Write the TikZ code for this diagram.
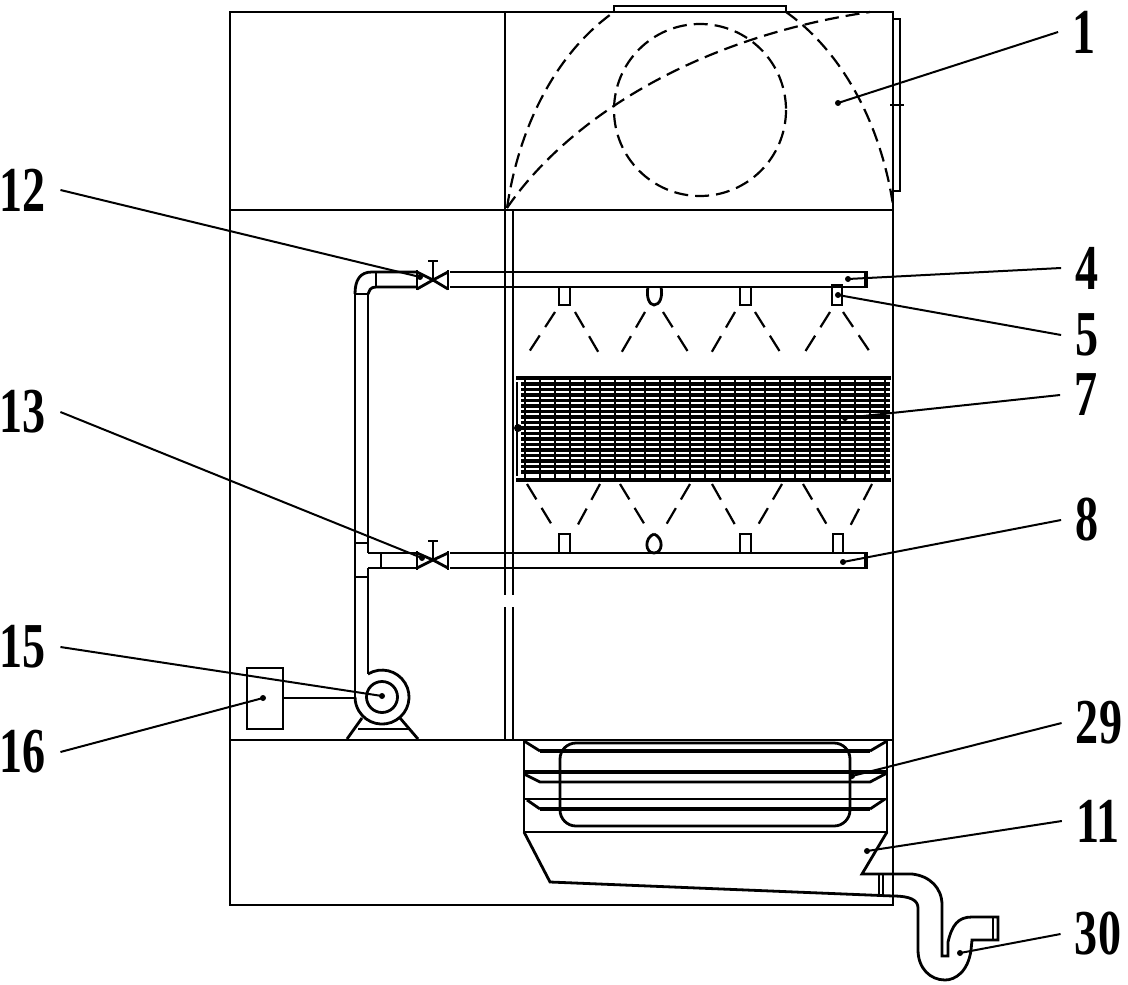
\documentclass[tikz,border=0pt]{standalone}
\usepackage{fontspec}
\setmainfont{Liberation Serif}
\newfontfamily\numfont[FakeStretch=0.72]{Liberation Serif}
\tikzset{
  part/.style={line width=1.4pt},
  heavy/.style={line width=2pt},
  hidden/.style={line width=1.1pt,dash pattern=on 7pt off 3.5pt},
  spray/.style={line width=1.1pt,dash pattern=on 9pt off 5pt},
  leader/.style={line width=1pt},
  numlabel/.style={font=\numfont\bfseries\fontsize{32}{36}\selectfont,inner ysep=1pt,inner xsep=7pt},
}
\begin{document}
\begin{tikzpicture}[x=0.5pt,y=-0.5pt]
      \useasboundingbox (0,0) rectangle (1128,984);
      % casing
      \draw[part] (230,12) rectangle (893,905);
      \draw[part] (230,210) -- (893,210);
      \draw[part] (230,740) -- (893,740);
      \draw[part] (505,12) -- (505,595);
      \draw[part] (505,607) -- (505,740);
      \draw[part] (513,210) -- (513,595);
      \draw[part] (513,607) -- (513,740);
      \draw[part] (614,12) -- (614,6) -- (786,6) -- (786,12);
      \draw[part] (894,19) -- (900,19) -- (900,191) -- (894,191);
      \draw[hidden] (890,105) -- (908,105);
      % fan
      \draw[hidden] (700,110) circle (86);
      \draw[hidden] (507,208) .. controls (520,120) and (560,50) .. (614,12);
      \draw[hidden] (786,12) .. controls (840,50) and (880,120) .. (893,205);
      \draw[hidden] (507,208) .. controls (560,130) and (680,40) .. (870,12);
      % upper pipe
      \draw[part] (450,272) -- (866,272);
      \draw[part] (450,287) -- (866,287);
      \draw[heavy] (866,271) -- (866,288);
      \draw[part] (355,294) .. controls (355,280) and (360,272) .. (372,272) -- (417,272);
      \draw[part] (368,294) .. controls (369,291) and (370,287) .. (376,287) -- (417,287);
      \draw[part] (376,272) -- (376,287);
      \draw[part] (355,294) -- (368,294);
      \draw[part] (417,270) -- (417,290);
      \draw[part] (417,272) -- (433,280) -- (417,289);
      \draw[part] (448,270) -- (448,290);
      \draw[part] (448,272) -- (433,280) -- (448,289);
      \draw[part] (433,280) -- (433,261);
      \draw[part] (428,261) -- (438,261);
      % lower pipe
      \draw[part] (450,553) -- (866,553);
      \draw[part] (450,568) -- (866,568);
      \draw[heavy] (866,552) -- (866,569);
      \draw[part] (368,553) -- (417,553);
      \draw[part] (368,568) -- (417,568);
      \draw[part] (381,553) -- (381,568);
      \draw[part] (417,551) -- (417,570);
      \draw[part] (417,553) -- (433,560) -- (417,568);
      \draw[part] (448,551) -- (448,570);
      \draw[part] (448,553) -- (433,560) -- (448,568);
      \draw[part] (433,560) -- (433,541);
      \draw[part] (428,541) -- (438,541);
      % riser
      \draw[part] (355,294) -- (355,697);
      \draw[part] (368,294) -- (368,553);
      \draw[part] (368,568) -- (368,674);
      \draw[part] (355,543) -- (368,543);
      \draw[part] (355,577) -- (368,577);
      % nozzles
      \draw[part] (559,287) rectangle (570,305);
      \draw[part] (648,287) .. controls (646,296) and (649,305) .. (654,305) .. controls (660,305) and (663,296) .. (661,287);
      \draw[part] (740,287) rectangle (751,305);
      \draw[part] (832,285) rectangle (842,305);
      \draw[part] (559,534) rectangle (570,553);
      \draw[part] (654,534) .. controls (644,538) and (645,553) .. (654,553) .. controls (663,553) and (664,538) .. (654,534);
      \draw[part] (740,534) rectangle (751,553);
      \draw[part] (833,534) rectangle (843,553);
      % upper sprays
      \draw[spray] (555,312) -- (527,355);
      \draw[spray] (575,312) -- (600,355);
      \draw[spray] (645,312) -- (620,355);
      \draw[spray] (663,312) -- (690,355);
      \draw[spray] (735,312) -- (710,355);
      \draw[spray] (755,312) -- (782,355);
      \draw[spray] (830,312) -- (803,355);
      \draw[spray] (843,312) -- (872,355);
      % lower sprays
      \draw[spray] (527,484) -- (555,530);
      \draw[spray] (600,484) -- (575,530);
      \draw[spray] (620,484) -- (648,530);
      \draw[spray] (690,484) -- (663,530);
      \draw[spray] (712,484) -- (738,530);
      \draw[spray] (782,484) -- (755,530);
      \draw[spray] (803,484) -- (830,530);
      \draw[spray] (872,484) -- (848,530);
      % packing
      \foreach \y in {384,389.5,...,476}
        \draw[line width=1.6pt] (521,\y) -- (890,\y);
      \foreach \x in {525,540,...,888}
        \draw[line width=1pt] (\x,378) -- (\x,480);
      \draw[line width=2.4pt] (516,378) -- (891,378);
      \draw[line width=2.4pt] (516,480) -- (891,480);
      \draw[part] (517,382) -- (517,476);
      \fill (518,428) circle (4);
      % basin
      \draw[part] (524,740) -- (524,832) -- (887,832) -- (887,740);
      \draw[part] (524,741) -- (540,751);
      \draw[heavy] (540,751) -- (870,751);
      \draw[part] (870,751) -- (887,741);
      \draw[heavy] (524,772) -- (887,772);
      \draw[part] (524,774) -- (540,782) -- (870,782) -- (887,773);
      \draw[part] (524,799) -- (887,799);
      \draw[part] (527,800) -- (540,809);
      \draw[heavy] (540,809) -- (870,809);
      \draw[part] (870,809) -- (885,799);
      \draw[part,rounded corners=8] (560,743) rectangle (850,826);
      % hopper
      \draw[part] (524,832) -- (550,882) -- (893,896);
      \draw[part] (887,832) -- (862,874) -- (912,874);
      \draw[part] (879,875) -- (879,896);
      \draw[part] (883,875) -- (883,896);
      % drain trap
      \draw[part] (912,874) .. controls (930,876) and (942,888) .. (942,905) -- (942,956) -- (948,956) -- (948,942) .. controls (952,925) and (958,917) .. (972,917) -- (998,917) -- (998,940) -- (972,940) -- (971,950) .. controls (968,972) and (955,980) .. (945,980) .. controls (930,980) and (918,968) .. (918,950) -- (918,908) .. controls (918,900) and (910,896) .. (893,896);
      \draw[part] (993,917) -- (993,940);
      % pump and motor
      \draw[part] (368,674) arc (238.7:540:27);
      \draw[part] (382,697) circle (15.5);
      \draw[part] (347,739) -- (362,718);
      \draw[part] (400,718) -- (418,739);
      \draw[part] (358,729) -- (408,729);
      \draw[part] (247,668) rectangle (283,729);
      \draw[part] (283,698) -- (355,698);
      % labels
      \node[numlabel] (num1) at (1084,32) {1};
      \node[numlabel] (num4) at (1087,268) {4};
      \node[numlabel] (num5) at (1087,335) {5};
      \node[numlabel] (num7) at (1086,395) {7};
      \node[numlabel] (num8) at (1087,520) {8};
      \node[numlabel] (num11) at (1098,821) {11};
      \node[numlabel] (num12) at (23,190) {12};
      \node[numlabel] (num13) at (23,412) {13};
      \node[numlabel] (num15) at (23,647) {15};
      \node[numlabel] (num16) at (23,752) {16};
      \node[numlabel] (num29) at (1099,723) {29};
      \node[numlabel] (num30) at (1098,934) {30};
      % leaders
      \coordinate (tip1) at (838,103);
      \coordinate (tip4) at (848,279);
      \coordinate (tip5) at (838,295);
      \coordinate (tip7) at (845,418);
      \coordinate (tip8) at (843,562);
      \coordinate (tip11) at (867,851);
      \coordinate (tip12) at (420,277);
      \coordinate (tip13) at (422,558);
      \coordinate (tip15) at (382,696);
      \coordinate (tip16) at (263,698);
      \coordinate (tip29) at (852,776);
      \coordinate (tip30) at (960,953);
      \draw[leader] (tip1) -- (num1.west);
      \draw[leader] (tip4) -- (num4.west);
      \draw[leader] (tip5) -- (num5.west);
      \draw[leader] (tip7) -- (num7.west);
      \draw[leader] (tip8) -- (num8.west);
      \draw[leader] (tip11) -- (num11.west);
      \draw[leader] (tip12) -- (num12.east);
      \draw[leader] (tip13) -- (num13.east);
      \draw[leader] (tip15) -- (num15.east);
      \draw[leader] (tip16) -- (num16.east);
      \draw[leader] (tip29) -- (num29.west);
      \draw[leader] (tip30) -- (num30.west);
      \fill (tip1) circle (3);
      \fill (tip4) circle (3);
      \fill (tip5) circle (3);
      \fill (tip7) circle (3);
      \fill (tip8) circle (3);
      \fill (tip11) circle (3);
      \fill (tip12) circle (3);
      \fill (tip13) circle (3);
      \fill (tip15) circle (3);
      \fill (tip16) circle (3);
      \fill (tip29) circle (3);
      \fill (tip30) circle (3);
\end{tikzpicture}
\end{document}
